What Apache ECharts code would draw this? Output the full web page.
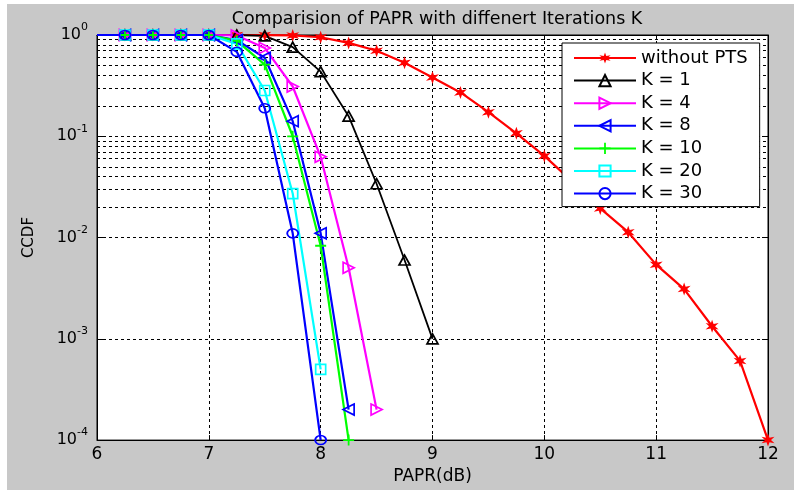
<!DOCTYPE html>
<html>
<head>
<meta charset="utf-8">
<script src="https://cdn.jsdelivr.net/npm/echarts@6/dist/echarts.min.js"></script>
<style>
  html, body { margin: 0; padding: 0; background: #ffffff; }
  #chart { width: 794px; height: 490px; }
</style>
</head>
<body>
<div id="chart"></div>
<script>
// PAPR thresholds (dB), one sample every 0.25 dB
const papr = [6.0, 6.25, 6.5, 6.75, 7.0, 7.25, 7.5, 7.75, 8.0, 8.25, 8.5, 8.75, 9.0,
              9.25, 9.5, 9.75, 10.0, 10.25, 10.5, 10.75, 11.0, 11.25, 11.5, 11.75, 12.0];

// CCDF curves
const ccdfOriginal = [1, 1, 1, 1, 1, 1, 0.998, 0.99, 0.95, 0.835, 0.70, 0.532, 0.38,
                      0.271, 0.173, 0.107, 0.064, 0.0357, 0.0194, 0.0113, 0.0054, 0.0031,
                      0.00133, 0.000605, 0.0001];
const ccdfK1  = [1, 1, 1, 1, 1, 1, 0.98, 0.76, 0.435, 0.158, 0.034, 0.006, 0.001];
const ccdfK4  = [1, 1, 1, 1, 1, 0.99, 0.746, 0.31, 0.0627, 0.00503, 0.0002];
const ccdfK8  = [1, 1, 1, 1, 1, 0.89, 0.596, 0.141, 0.011, 0.0002];
const ccdfK10 = [1, 1, 1, 1, 1, 0.874, 0.509, 0.1, 0.0083, 0.0001];
const ccdfK20 = [1, 1, 1, 1, 1, 0.817, 0.283, 0.0272, 0.0005];
const ccdfK30 = [1, 1, 1, 1, 1, 0.682, 0.189, 0.011, 0.0001];

const seriesNames = ['without PTS', 'K = 1', 'K = 4', 'K = 8', 'K = 10', 'K = 20', 'K = 30'];

// y-axis decades (exponents) and minor-grid multipliers
const decades = [-4, -3, -2, -1, 0];
const minorMultipliers = [2, 3, 4, 5, 6, 7, 8, 9];

const FONT = 'DejaVu Sans';

// marker shapes
const STAR = 'path://M10 0L12 6.54L18.66 5L14 10L18.66 15L12 13.46L10 20L8 13.46L1.34 15L6 10L1.34 5L8 6.54Z';
const TRI_RIGHT = 'path://M0 0L10 5L0 10Z';
const TRI_LEFT = 'path://M10 0L0 5L10 10Z';
const PLUS = 'path://M4.2 0H5.8V4.2H10V5.8H5.8V10H4.2V5.8H0V4.2H4.2Z';

function pairs(values) {
  return values.map(function (v, i) {
    // first sample sits on the left edge and carries no marker
    return i === 0 ? { value: [papr[i], v], symbol: 'none' } : [papr[i], v];
  });
}

function curve(name, values, color, symbol, size, filled, width) {
  return {
    name: name,
    type: 'line',
    data: pairs(values),
    symbol: symbol,
    symbolSize: size,
    showAllSymbol: true,
    clip: false,
    lineStyle: { color: color, width: width },
    itemStyle: filled
      ? { color: color, borderWidth: 0 }
      : { color: 'rgba(0,0,0,0)', borderColor: color, borderWidth: 1.7 },
    emphasis: { disabled: true },
    z: 3
  };
}

const minorValues = [];
decades.slice(0, -1).forEach(function (e) {
  minorMultipliers.forEach(function (m) { minorValues.push(m * Math.pow(10, e)); });
});

const series = [
  curve(seriesNames[0], ccdfOriginal, '#ff0000', STAR, [13, 13], true, 2.2),
  curve(seriesNames[1], ccdfK1, '#000000', 'triangle', [11, 10], false, 1.8),
  curve(seriesNames[2], ccdfK4, '#ff00ff', TRI_RIGHT, [11, 11], false, 2.2),
  curve(seriesNames[3], ccdfK8, '#0000ff', TRI_LEFT, [11, 11], false, 2.2),
  curve(seriesNames[4], ccdfK10, '#00ff00', PLUS, [11, 11], true, 2.2),
  curve(seriesNames[5], ccdfK20, '#00ffff', 'rect', [10, 10], false, 2.2),
  curve(seriesNames[6], ccdfK30, '#0000ff', 'circle', [11, 9], false, 2.2),
  {
    // dashed minor grid on the logarithmic axis
    type: 'line',
    data: [],
    silent: true,
    z: 1,
    markLine: {
      silent: true,
      z: 1,
      symbol: 'none',
      label: { show: false },
      animation: false,
      lineStyle: { color: '#000', type: [3, 3], width: 1 },
      data: minorValues.map(function (v) { return { yAxis: v }; })
    }
  }
];

const chart = echarts.init(document.getElementById('chart'));
chart.setOption({
  animation: false,
  backgroundColor: 'transparent',
  graphic: [{
    type: 'rect',
    z: -100,
    silent: true,
    shape: { x: 7, y: 4, width: 787, height: 486 },
    style: { fill: '#c8c8c8' }
  }],
  title: {
    text: 'Comparision of PAPR with diffenert Iterations K',
    left: 432,
    top: 5,
    textAlign: 'center',
    textStyle: { fontFamily: FONT, fontSize: 17.5, fontWeight: 'normal', color: '#000' }
  },
  grid: {
    left: 97, right: 26, top: 35, bottom: 46,
    show: true,
    backgroundColor: '#ffffff',
    borderColor: '#000',
    borderWidth: 1
  },
  legend: {
    data: seriesNames,
    orient: 'vertical',
    left: 562,
    top: 43,
    z: 10,
    padding: [5, 12, 3, 11],
    itemWidth: 62,
    itemHeight: 14,
    itemGap: 2.6,
    backgroundColor: '#ffffff',
    borderColor: '#000',
    borderWidth: 1,
    borderRadius: 0,
    textStyle: { fontFamily: FONT, fontSize: 18, lineHeight: 20, color: '#000' }
  },
  xAxis: [{
    type: 'value',
    min: 6, max: 12, interval: 1,
    name: 'PAPR(dB)',
    nameLocation: 'middle',
    nameGap: 27,
    nameTextStyle: { fontFamily: FONT, fontSize: 17, color: '#000' },
    axisLine: { lineStyle: { color: '#000', width: 1 } },
    axisTick: { inside: true, length: 5, lineStyle: { color: '#000' } },
    axisLabel: { fontFamily: FONT, fontSize: 17, color: '#000', margin: 6 },
    splitLine: { show: true, lineStyle: { color: '#000', type: [3, 3], width: 1 } }
  }, {
    type: 'value',
    position: 'top',
    min: 6, max: 12, interval: 1,
    axisLine: { lineStyle: { color: '#000' } },
    axisTick: { inside: true, length: 5, lineStyle: { color: '#000' } },
    axisLabel: { show: false },
    splitLine: { show: false }
  }],
  yAxis: [{
    type: 'log',
    logBase: 10,
    min: 1e-4, max: 1,
    name: 'CCDF',
    nameLocation: 'middle',
    nameGap: 60,
    nameRotate: 90,
    nameTextStyle: { fontFamily: FONT, fontSize: 15, color: '#000' },
    axisLine: { lineStyle: { color: '#000', width: 1 } },
    axisTick: { inside: true, length: 6, lineStyle: { color: '#000' } },
    axisLabel: {
      color: '#000',
      margin: 9,
      formatter: function (v) {
        const e = Math.round(Math.log10(v));
        return '{b|10}{s|' + e + '}';
      },
      rich: {
        b: { fontFamily: FONT, fontSize: 16, lineHeight: 26, color: '#000' },
        s: { fontFamily: FONT, fontSize: 11, lineHeight: 12, verticalAlign: 'top', color: '#000' }
      }
    },
    splitLine: { show: true, lineStyle: { color: '#000', type: [3, 3], width: 1 } }
  }, {
    type: 'log',
    logBase: 10,
    min: 1e-4, max: 1,
    position: 'right',
    axisLine: { lineStyle: { color: '#000' } },
    axisTick: { inside: true, length: 6, lineStyle: { color: '#000' } },
    axisLabel: { show: false },
    splitLine: { show: false }
  }],
  series: series
});
</script>
</body>
</html>
